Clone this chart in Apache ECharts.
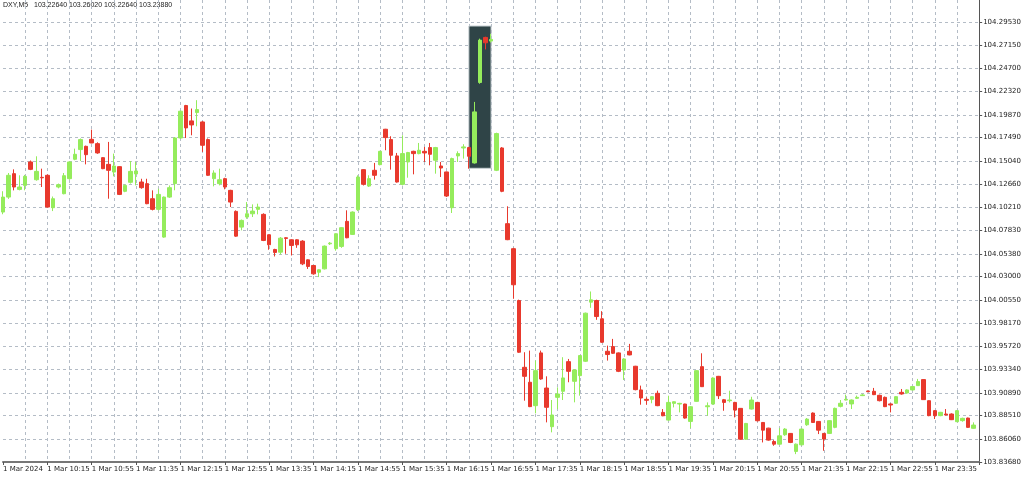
<!DOCTYPE html>
<html>
<head>
<meta charset="utf-8"/>
<title>DXY,M5</title>
<script src="https://cdn.jsdelivr.net/npm/echarts@6/dist/echarts.min.js"></script>
<style>
    html, body { margin: 0; padding: 0; background: #ffffff; }
    #chart { width: 1024px; height: 477px; }
</style>
</head>
<body>
<div id="chart"></div>
<script>
// price levels printed on the right scale
var yTicks = [103.83680, 103.86060, 103.88510, 103.90890, 103.93340, 103.95720, 103.98170,
    104.00550, 104.03000, 104.05380, 104.07830, 104.10210, 104.12660, 104.15040, 104.17490,
    104.19870, 104.22320, 104.24700, 104.27150, 104.29530];

// time labels, one every 8 bars
var xTickLabels = ['1 Mar 2024', '1 Mar 10:15', '1 Mar 10:55', '1 Mar 11:35', '1 Mar 12:15',
    '1 Mar 12:55', '1 Mar 13:35', '1 Mar 14:15', '1 Mar 14:55', '1 Mar 15:35', '1 Mar 16:15',
    '1 Mar 16:55', '1 Mar 17:35', '1 Mar 18:15', '1 Mar 18:55', '1 Mar 19:35', '1 Mar 20:15',
    '1 Mar 20:55', '1 Mar 21:35', '1 Mar 22:15', '1 Mar 22:55', '1 Mar 23:35'];

// 5 minute bars: [open, close, low, high]
var bars = [
    [104.0973,104.1129,104.0950,104.1190],[104.1129,104.1356,104.1110,104.1380],
    [104.1373,104.1234,104.1199,104.1418],[104.1209,104.1234,104.1199,104.1356],
    [104.1251,104.1345,104.1200,104.1360],[104.1495,104.1418,104.1410,104.1510],
    [104.1310,104.1397,104.1300,104.1554],[104.1335,104.1330,104.1234,104.1425],
    [104.1356,104.1025,104.1020,104.1365],[104.1018,104.1112,104.0983,104.1135],
    [104.1234,104.1258,104.1220,104.1270],[104.1164,104.1352,104.1158,104.1380],
    [104.1321,104.1495,104.1310,104.1500],[104.1523,104.1575,104.1513,104.1634],
    [104.1624,104.1728,104.1505,104.1740],[104.1658,104.1571,104.1470,104.1665],
    [104.1731,104.1693,104.1690,104.1832],[104.1686,104.1589,104.1580,104.1700],
    [104.1540,104.1425,104.1420,104.1545],[104.1470,104.1408,104.1112,104.1704],
    [104.1390,104.1453,104.1345,104.1582],[104.1446,104.1157,104.1150,104.1450],
    [104.1189,104.1251,104.1180,104.1260],[104.1283,104.1397,104.1270,104.1505],
    [104.1370,104.1401,104.1251,104.1495],[104.1286,104.1227,104.1216,104.1320],
    [104.1269,104.1060,104.1055,104.1320],[104.1112,104.1001,104.0990,104.1199],
    [104.1001,104.1157,104.0990,104.1216],[104.0712,104.1129,104.0705,104.1135],
    [104.1129,104.1227,104.1120,104.1250],[104.1269,104.1745,104.1200,104.1755],
    [104.1745,104.2024,104.1740,104.2030],[104.2083,104.1850,104.1745,104.2090],
    [104.1923,104.1881,104.1773,104.2052],[104.2010,104.2041,104.1867,104.2139],
    [104.1912,104.1669,104.1600,104.1920],[104.1728,104.1356,104.1350,104.1740],
    [104.1321,104.1380,104.1241,104.1408],[104.1269,104.1310,104.1251,104.1425],
    [104.1321,104.1234,104.1210,104.1330],[104.1199,104.1077,104.1025,104.1205],
    [104.0980,104.0722,104.0715,104.0990],[104.0816,104.0886,104.0782,104.0895],
    [104.0921,104.0955,104.0903,104.1077],[104.0955,104.0983,104.0921,104.1053],
    [104.1001,104.1025,104.0949,104.1060],[104.0949,104.0677,104.0670,104.0960],
    [104.0736,104.0632,104.0580,104.0740],[104.0583,104.0552,104.0510,104.0590],
    [104.0555,104.0701,104.0531,104.0712],[104.0705,104.0698,104.0538,104.0710],
    [104.0684,104.0625,104.0520,104.0690],[104.0684,104.0632,104.0600,104.0690],
    [104.0670,104.0433,104.0420,104.0680],[104.0475,104.0406,104.0380,104.0480],
    [104.0416,104.0329,104.0320,104.0420],[104.0346,104.0371,104.0295,104.0375],
    [104.0381,104.0618,104.0375,104.0625],[104.0642,104.0649,104.0630,104.0660],
    [104.0591,104.0747,104.0570,104.0750],[104.0615,104.0810,104.0600,104.0815],
    [104.0876,104.0705,104.0700,104.0991],[104.0740,104.0973,104.0735,104.0980],
    [104.0997,104.1338,104.0983,104.1356],[104.1415,104.1262,104.1250,104.1420],
    [104.1244,104.1321,104.1234,104.1356],[104.1408,104.1356,104.1311,104.1485],
    [104.1467,104.1606,104.1460,104.1610],[104.1836,104.1749,104.1617,104.1840],
    [104.1728,104.1565,104.1415,104.1763],[104.1558,104.1286,104.1280,104.1589],
    [104.1262,104.1582,104.1251,104.1773],[104.1495,104.1593,104.1331,104.1600],
    [104.1606,104.1582,104.1366,104.1612],[104.1582,104.1617,104.1575,104.1693],
    [104.1606,104.1589,104.1495,104.1652],[104.1645,104.1575,104.1460,104.1693],
    [104.1513,104.1645,104.1373,104.1652],[104.1453,104.1432,104.1338,104.1495],
    [104.1391,104.1140,104.1130,104.1395],[104.1018,104.1530,104.0963,104.1540],
    [104.1558,104.1582,104.1495,104.1606],[104.1641,104.1652,104.1530,104.1680],
    [104.1645,104.1554,104.1425,104.1652],[104.1485,104.2017,104.1478,104.2121],
    [104.2323,104.2765,104.2310,104.2780],[104.2793,104.2737,104.2668,104.2800],
    [104.2755,104.2772,104.2740,104.2830],[104.1408,104.1791,104.1400,104.1800],
    [104.1641,104.1189,104.1180,104.1650],[104.0852,104.0685,104.0680,104.1033],
    [104.0591,104.0215,104.0069,104.0600],[104.0051,103.9512,103.9505,104.0060],
    [103.9355,103.9261,103.9007,103.9512],[103.9199,103.8945,103.8940,103.9529],
    [103.8955,103.9320,103.8875,103.9425],[103.9505,103.9233,103.9225,103.9529],
    [103.9139,103.8938,103.8781,103.9261],[103.8736,103.8858,103.8677,103.9014],
    [103.9042,103.9077,103.8920,103.9146],[103.9105,103.9244,103.9014,103.9460],
    [103.9414,103.9313,103.9199,103.9442],[103.9209,103.9327,103.8990,103.9335],
    [103.9268,103.9477,103.9059,103.9480],[103.9418,103.9919,103.9410,103.9925],
    [104.0034,104.0058,103.9975,104.0145],[104.0051,103.9884,103.9850,104.0060],
    [103.9860,103.9616,103.9610,103.9940],[103.9522,103.9488,103.9425,103.9581],
    [103.9571,103.9501,103.9495,103.9651],[103.9505,103.9313,103.9305,103.9510],
    [103.9327,103.9442,103.9223,103.9450],[103.9522,103.9484,103.9480,103.9599],
    [103.9366,103.9122,103.9115,103.9370],[103.9119,103.9035,103.8965,103.9164],
    [103.9021,103.9011,103.8965,103.9042],[103.9021,103.9049,103.8980,103.9055],
    [103.9084,103.8955,103.8950,103.9112],[103.8885,103.8850,103.8845,103.8920],
    [103.8805,103.8989,103.8800,103.9059],[103.8979,103.8996,103.8937,103.9000],
    [103.8972,103.8979,103.8885,103.8985],[103.8972,103.8826,103.8820,103.8975],
    [103.8791,103.8944,103.8721,103.8950],[103.9000,103.9320,103.8995,103.9325],
    [103.9362,103.9153,103.9150,103.9501],[103.8944,103.8954,103.8850,103.8989],
    [103.8972,103.9243,103.8965,103.9250],[103.9261,103.9059,103.9024,103.9265],
    [103.9017,103.8989,103.8902,103.9025],[103.9007,103.9014,103.8989,103.9111],
    [103.8989,103.8909,103.8833,103.8995],[103.8927,103.8606,103.8600,103.8930],
    [103.8606,103.8770,103.8600,103.8775],[103.8920,103.9014,103.8915,103.9048],
    [103.8989,103.8798,103.8790,103.8995],[103.8780,103.8700,103.8572,103.8785],
    [103.8721,103.8596,103.8590,103.8725],[103.8582,103.8554,103.8537,103.8596],
    [103.8554,103.8641,103.8550,103.8721],[103.8652,103.8711,103.8641,103.8721],
    [103.8666,103.8572,103.8565,103.8670],[103.8478,103.8554,103.8450,103.8560],
    [103.8547,103.8711,103.8540,103.8715],[103.8756,103.8815,103.8745,103.8826],
    [103.8878,103.8780,103.8775,103.8885],[103.8791,103.8700,103.8659,103.8795],
    [103.8666,103.8607,103.8485,103.8670],[103.8666,103.8799,103.8660,103.8805],
    [103.8729,103.8927,103.8720,103.8935],[103.8948,103.8980,103.8937,103.9014],
    [103.9014,103.9021,103.9010,103.9070],[103.8973,103.9014,103.8920,103.9020],
    [103.9032,103.9042,103.9025,103.9060],[103.9060,103.9067,103.9055,103.9077],
    [103.9108,103.9101,103.9095,103.9112],[103.9105,103.9070,103.9065,103.9140],
    [103.9063,103.9007,103.9000,103.9070],[103.9042,103.8945,103.8940,103.9050],
    [103.8973,103.8962,103.8885,103.8980],[103.8980,103.9049,103.8975,103.9055],
    [103.9094,103.9077,103.9070,103.9129],[103.9087,103.9119,103.9080,103.9125],
    [103.9119,103.9154,103.9115,103.9160],[103.9164,103.9206,103.9160,103.9234],
    [103.9227,103.9018,103.9015,103.9230],[103.9007,103.8851,103.8845,103.9010],
    [103.8903,103.8851,103.8816,103.8910],[103.8851,103.8886,103.8845,103.8890],
    [103.8868,103.8858,103.8855,103.8920],[103.8868,103.8809,103.8805,103.8875],
    [103.8788,103.8903,103.8785,103.8910],[103.8799,103.8823,103.8788,103.8830],
    [103.8826,103.8729,103.8725,103.8830],[103.8719,103.8753,103.8715,103.8781]
];

// highlighted block: bar index range and price range
var boxBars = [84, 88];
var boxPrices = [104.1429, 104.2912];

// bar times, 9:35 onwards every 5 minutes (plus one empty slot on the right)
var categories = [];
for (var i = 0; i <= bars.length; i++) {
    var m = 9 * 60 + 35 + i * 5;
    var hh = Math.floor(m / 60), mm = m % 60;
    categories.push(hh + ':' + (mm < 10 ? '0' + mm : mm));
}

var chart = echarts.init(document.getElementById('chart'));
var gridLine = { color: '#b4bcc6', type: [3, 3], width: 1 };
var option = {
    animation: false,
    backgroundColor: '#ffffff',
    textStyle: { fontFamily: 'DejaVu Sans' },
    graphic: [{
        type: 'text', left: 3, top: 2,
        style: { text: 'DXY,M5   103.22640 103.26020 103.22640 103.23880', fontSize: 7, fill: '#222' }
    }],
    grid: { left: 1, right: 38, top: 0, bottom: 15 },
    xAxis: {
        type: 'category',
        data: categories,
        boundaryGap: false,
        axisLine: { lineStyle: { color: '#777', width: 2 } },
        axisTick: { interval: function (idx) { return idx % 8 === 0; }, length: 3, lineStyle: { color: '#555' } },
        axisLabel: {
            interval: function (idx) { return idx % 8 === 0; },
            formatter: function (v, idx) { return xTickLabels[idx / 8] || ''; },
            align: 'left', fontSize: 7, color: '#222', margin: 4
        },
        splitLine: { show: true, interval: function (idx) { return idx % 4 === 0 && idx > 0; }, lineStyle: gridLine }
    },
    yAxis: {
        type: 'value',
        position: 'right',
        min: 103.8368,
        max: 104.3183,
        axisLine: { show: true, lineStyle: { color: '#555', width: 1 } },
        axisTick: { show: true, length: 3, customValues: yTicks, lineStyle: { color: '#555' } },
        axisLabel: {
            customValues: yTicks, fontSize: 7, color: '#222', margin: 4,
            formatter: function (v) { return v.toFixed(5); }
        },
        splitLine: { show: true, lineStyle: gridLine }
    },
    series: [{
        type: 'candlestick',
        data: bars,
        barWidth: 4,
        itemStyle: {
            color: '#95ec5c', color0: '#e8392d',
            borderColor: '#95ec5c', borderColor0: '#e8392d', borderWidth: 1
        },
        markArea: {
            silent: true,
            itemStyle: { color: '#2f4447', borderColor: '#c8d0d4', borderWidth: 1 },
            data: [[
                { xAxis: boxBars[0], yAxis: boxPrices[1] },
                { xAxis: boxBars[1], yAxis: boxPrices[0] }
            ]]
        }
    }]
};
chart.setOption(option);
</script>
</body>
</html>
